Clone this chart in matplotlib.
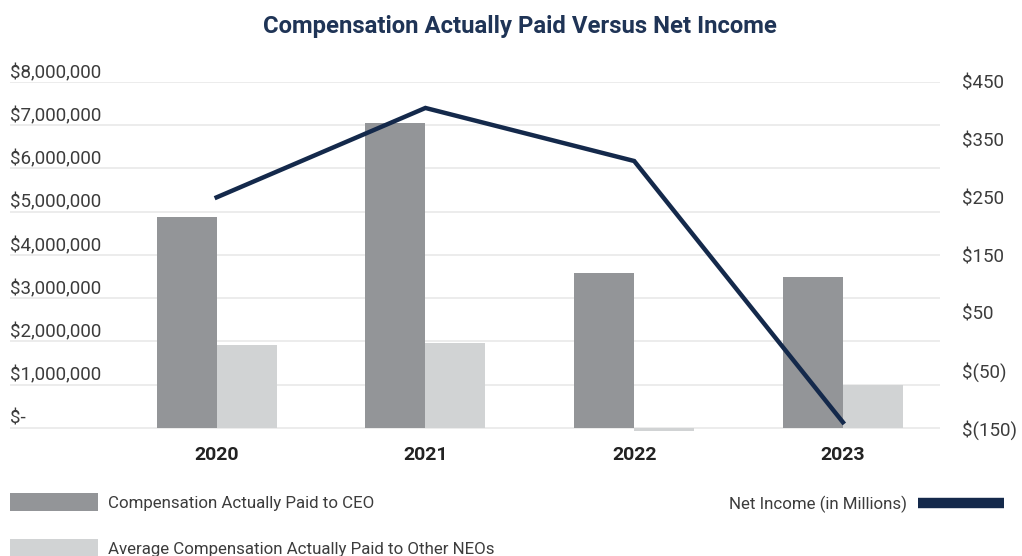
import matplotlib
matplotlib.use("Agg")
import matplotlib.pyplot as plt
from matplotlib.lines import Line2D
from matplotlib.patches import Patch

plt.rcParams['font.family'] = ['Roboto', 'DejaVu Sans']

years = ["2020", "2021", "2022", "2023"]
ceo_cap = [4880000, 7050000, 3580000, 3490000]
neo_cap = [1920000, 1970000, -70000, 990000]
net_income = [250, 405, 313, -140]

left_ticks = [0, 1e6, 2e6, 3e6, 4e6, 5e6, 6e6, 7e6, 8e6]
left_labels = ["$-", "$1,000,000", "$2,000,000", "$3,000,000", "$4,000,000",
               "$5,000,000", "$6,000,000", "$7,000,000", "$8,000,000"]
right_ticks = [-150, -50, 50, 150, 250, 350, 450]
right_labels = ["$(150)", "$(50)", "$50", "$150", "$250", "$350", "$450"]

CEO_COLOR = "#939598"
NEO_COLOR = "#d1d3d4"
LINE_COLOR = "#14294b"
TITLE_COLOR = "#1f3456"
TEXT_COLOR = "#3c3c3c"

W, H = 1022, 556
fig = plt.figure(figsize=(W / 100, H / 100), dpi=100)
ax = fig.add_axes([10 / W, 1 - 432 / H, 930 / W, 350 / H])

x = list(range(len(years)))
bw = 0.2875
ax.bar([i - bw for i in x], ceo_cap, width=bw, align='edge', color=CEO_COLOR, zorder=2)
ax.bar(x, neo_cap, width=bw, align='edge', color=NEO_COLOR, zorder=2)

ax.set_xlim(-0.99, 3.465)
ax.set_ylim(-0.0925e6, 8e6)
for s in ax.spines.values():
    s.set_visible(False)
ax.set_yticks(left_ticks)
ax.yaxis.grid(True, color="#e9e9e9", linewidth=1.2, zorder=0)
ax.set_axisbelow(True)
ax.tick_params(axis='y', length=0, pad=0, labelsize=13.5, labelcolor=TEXT_COLOR)
ax.set_yticklabels(left_labels)
for lbl in ax.get_yticklabels():
    lbl.set_horizontalalignment('left')
    lbl.set_verticalalignment('bottom')

ax.set_xticks(x)
ax.set_xticklabels(years, fontweight='bold')
ax.tick_params(axis='x', length=0, pad=10, labelsize=14, labelcolor="#222222")

ax2 = ax.twinx()
ax2.plot(x, net_income, color=LINE_COLOR, linewidth=3.2, solid_joinstyle='miter', zorder=3)
ax2.set_ylim(-156.9, 450)
for s in ax2.spines.values():
    s.set_visible(False)
ax2.set_yticks(right_ticks)
ax2.set_yticklabels(right_labels)
ax2.tick_params(axis='y', length=0, pad=16, labelsize=13.5, labelcolor=TEXT_COLOR)

fig.suptitle("Compensation Actually Paid Versus Net Income", x=520 / W, y=1 - 27 / H,
             va='center', fontsize=17.2, fontweight='bold', color=TITLE_COLOR)

fs = 12.2
h1 = [Patch(facecolor=CEO_COLOR, edgecolor='none'), Patch(facecolor=NEO_COLOR, edgecolor='none')]
leg1 = fig.legend(h1, ["Compensation Actually Paid to CEO",
                       "Average Compensation Actually Paid to Other NEOs"],
                  loc='upper left', bbox_to_anchor=(10 / W, 1 - 493 / H),
                  frameon=False, fontsize=fs, borderpad=0, borderaxespad=0,
                  handlelength=5.2, handleheight=1.3, handletextpad=0.6,
                  labelspacing=1.65, labelcolor=TEXT_COLOR)
h2 = [Line2D([0], [0], color=LINE_COLOR, linewidth=7.5, solid_capstyle='butt')]
leg2 = fig.legend(h2, ["Net Income (in Millions)"], loc='center right',
                  bbox_to_anchor=(1004 / W, 1 - 504 / H), frameon=False, fontsize=fs,
                  borderpad=0, borderaxespad=0, handlelength=5.1, handletextpad=0.6,
                  markerfirst=False, labelcolor=TEXT_COLOR)

fig.savefig("out.png", dpi=100)
